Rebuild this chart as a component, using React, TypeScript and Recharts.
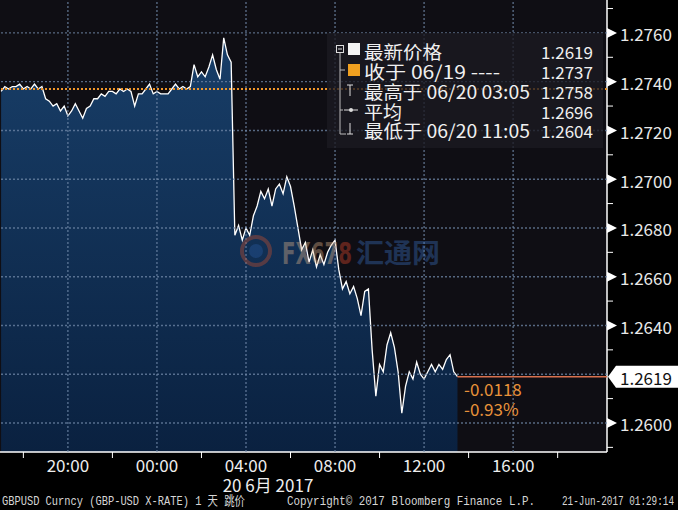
import React from "react";
import { ComposedChart, Area, XAxis, YAxis, CartesianGrid, ReferenceLine } from "recharts";

// minutes relative to 20 Jun 2017 00:00, 10-minute closes from 19 Jun 17:00
const START_MIN = -420;
const STEP_MIN = 10;

const closes = [
  1.2736, 1.2738, 1.2737, 1.2738, 1.2738, 1.2739, 1.2737, 1.2738, 1.2737, 1.2739,
  1.2737, 1.2738, 1.2733, 1.2732, 1.273, 1.2731, 1.2728, 1.273, 1.2726, 1.2728,
  1.2731, 1.2728, 1.2725, 1.2729, 1.273, 1.2733, 1.2733, 1.2735, 1.2734, 1.2736,
  1.2736, 1.2735, 1.2737, 1.2736, 1.2737, 1.2736, 1.273, 1.2735, 1.2735, 1.2737,
  1.2739, 1.2735, 1.2736, 1.2735, 1.2735, 1.2735, 1.2737, 1.2739, 1.2737, 1.2738,
  1.2737, 1.2738, 1.2747, 1.2742, 1.2744, 1.2742, 1.2746, 1.2751, 1.2745, 1.2741,
  1.2758, 1.2751, 1.2748, 1.2677, 1.2681, 1.2675, 1.268, 1.2677, 1.2685, 1.2689,
  1.2695, 1.2692, 1.2696, 1.2689, 1.2696, 1.2698, 1.2694, 1.2701, 1.2697, 1.2689,
  1.268, 1.2671, 1.2674, 1.2666, 1.2671, 1.2664, 1.2669, 1.2665, 1.267, 1.2673,
  1.2675, 1.2663, 1.2655, 1.2658, 1.2653, 1.2656, 1.2651, 1.2644, 1.2654, 1.2655,
  1.263, 1.2611, 1.2624, 1.2621, 1.2632, 1.2637, 1.2631, 1.2621, 1.2604, 1.2615,
  1.2621, 1.2618, 1.2625, 1.262, 1.2618, 1.2621, 1.2624, 1.2621, 1.2624, 1.2622,
  1.2626, 1.2628, 1.2621, 1.2619,
];

const xMajorTicks = [-240, 0, 240, 480, 720, 960];
const xMajorLabels = ["20:00", "00:00", "04:00", "08:00", "12:00", "16:00"];
const xMinorTicks = [-360, -120, 120, 360, 600, 840, 1080];

const yMajorTicks = [1.26, 1.262, 1.264, 1.266, 1.268, 1.27, 1.272, 1.274, 1.276];
const yMinorTicks = [1.259, 1.261, 1.263, 1.265, 1.267, 1.269, 1.271, 1.273, 1.275, 1.277];

const LAST_PRICE = 1.2619;
const PREV_CLOSE = 1.2737;
const LAST_MIN = 810;

const X_DOMAIN = [-423, 1213];
const Y_DOMAIN = [1.25881, 1.27735];

const legendLabels = ["最新价格", "收于 06/19 ----", "最高于 06/20 03:05", "平均", "最低于 06/20 11:05"];
const legendValues = ["1.2619", "1.2737", "1.2758", "1.2696", "1.2604"];
const changeLabels = ["-0.0118", "-0.93%"];

const data = closes.map((c, i) => ({ t: START_MIN + i * STEP_MIN, close: c }));

const FONT = "'Noto Sans CJK SC', 'Noto Sans', sans-serif";
const GRID = "#7088a8";

function PriceTick(props: any) {
  const { x, y, payload } = props;
  const v = payload.value;
  if (v === LAST_PRICE) {
    return (
      <g>
        <polygon
          points={`${x + 1},${y} ${x + 9},${y - 11} ${x + 71},${y - 11} ${x + 71},${y + 11} ${x + 9},${y + 11}`}
          fill="#fff"
        />
        <text x={x + 13} y={y + 1} dominantBaseline="central" fontSize={17} fontFamily={FONT} fill="#111">
          {v.toFixed(4)}
        </text>
      </g>
    );
  }
  // the last price tag hides the label under it
  if (Math.abs(v - LAST_PRICE) < 0.0005) return <g />;
  const major = Math.round(v * 1000) % 2 === 0;
  if (!major) return <line x1={x} x2={x + 6} y1={y} y2={y} stroke="#fff" strokeWidth={1} />;
  return (
    <g>
      <polygon points={`${x},${y - 5} ${x + 10},${y} ${x},${y + 5}`} fill="#fff" />
      <text x={x + 13} y={y + 1} dominantBaseline="central" fontSize={17} fontFamily={FONT} fill="#e8e8e8">
        {v.toFixed(4)}
      </text>
    </g>
  );
}

function TimeTick(props: any) {
  const { x, y, payload } = props;
  const idx = xMajorTicks.indexOf(payload.value);
  if (idx < 0) return <line x1={x} x2={x} y1={y} y2={y + 6} stroke="#fff" strokeWidth={1} />;
  return (
    <text x={x} y={y + 12} textAnchor="middle" dominantBaseline="central" fontSize={17} fontFamily={FONT} fill="#eee">
      {xMajorLabels[idx]}
    </text>
  );
}

function Overlay() {
  const rowY = [50, 70, 90, 110, 129];
  const labelWidths = [78, 136, 166, 38, 166];
  return (
    <svg width={678} height={510} style={{ position: "absolute", left: 0, top: 0, pointerEvents: "none" }}>
      {/* watermark */}
      <g opacity={0.38}>
        <circle cx={256} cy={251} r={14} fill="none" stroke="#c8502e" strokeWidth={4} />
        <circle cx={256} cy={251} r={7} fill="#2a5aa0" />
        <text x={282} y={264} fontSize={30} fontWeight={700} fontFamily="'DejaVu Sans', sans-serif" fill="#e0b48a" textLength={70} lengthAdjust="spacingAndGlyphs">
          FX67<tspan fill="#e0482c">8</tspan>
        </text>
        <text x={356} y={263} fontSize={27} fontWeight={700} fontFamily={FONT} fill="#3a70c0" textLength={84} lengthAdjust="spacingAndGlyphs">
          汇通网
        </text>
      </g>

      {/* legend */}
      <rect x={327} y={33} width={276} height={115} fill="#1b1a21" opacity={0.78} />
      <rect x={336.5} y={45.5} width={7} height={7} fill="none" stroke="#ddd" />
      <line x1={338} x2={342} y1={49} y2={49} stroke="#ddd" />
      <line x1={340} x2={340} y1={53} y2={134} stroke="#bbb" />
      <line x1={340} x2={345} y1={70} y2={70} stroke="#bbb" />
      <line x1={340} x2={343} y1={110} y2={110} stroke="#bbb" />
      <line x1={340} x2={346} y1={134} y2={134} stroke="#bbb" />
      <line x1={347} x2={353} y1={85} y2={85} stroke="#ddd" />
      <line x1={350} x2={350} y1={85} y2={96} stroke="#ddd" />
      <line x1={344} x2={358} y1={110} y2={110} stroke="#ddd" />
      <circle cx={351} cy={110} r={2} fill="#ddd" />
      <line x1={350} x2={350} y1={123} y2={134} stroke="#ddd" />
      <line x1={347} x2={353} y1={134} y2={134} stroke="#ddd" />
      <rect x={348} y={43} width={12} height={12} fill="#f4f4f4" />
      <rect x={348} y={64} width={12} height={12} fill="#f0a020" />
      {legendLabels.map((s, i) => (
        <text
          key={s}
          x={364}
          y={rowY[i] + 1}
          dominantBaseline="central"
          fontSize={18}
          fontFamily={FONT}
          fill="#f0f0f0"
          textLength={labelWidths[i]}
          lengthAdjust="spacingAndGlyphs"
        >
          {s}
        </text>
      ))}
      {legendValues.map((s, i) => (
        <text key={i} x={593} y={rowY[i] + 1} textAnchor="end" dominantBaseline="central" fontSize={17} fontFamily={FONT} fill="#f0f0f0">
          {s}
        </text>
      ))}

      {/* change from previous close */}
      {changeLabels.map((s, i) => (
        <text key={s} x={464} y={388 + i * 20} dominantBaseline="central" fontSize={17} fontFamily={FONT} fill="#e8923a">
          {s}
        </text>
      ))}

      <text x={268} y={484} textAnchor="middle" dominantBaseline="central" fontSize={17} fontFamily={FONT} fill="#eee">
        20 6月 2017
      </text>

      {/* footer */}
      <g fontFamily="'Liberation Mono', 'Noto Sans CJK SC', monospace" fontSize={13} fill="#d6d6d6">
        <text x={2} y={505} textLength={243} lengthAdjust="spacingAndGlyphs">
          GBPUSD Curncy (GBP-USD X-RATE) 1 天  跳价
        </text>
        <text x={287} y={505} textLength={248} lengthAdjust="spacingAndGlyphs">
          Copyright© 2017 Bloomberg Finance L.P.
        </text>
        <text x={562} y={505} textLength={112} lengthAdjust="spacingAndGlyphs">
          21-Jun-2017 01:29:14
        </text>
      </g>
    </svg>
  );
}

export default function App() {
  return (
    <div style={{ position: "fixed", left: 0, top: 0, width: 678, height: 510, background: "#000", fontFamily: FONT }}>
      <ComposedChart width={678} height={510} data={data} margin={{ top: 0, right: 0, bottom: 0, left: 0 }}>
        <defs>
          <linearGradient id="fillBlue" x1="0" y1="0" x2="0" y2="1">
            <stop offset="0%" stopColor="#183e68" />
            <stop offset="100%" stopColor="#0a2140" />
          </linearGradient>
        </defs>
        <CartesianGrid horizontal={false} vertical={false} fill="#0f0e14" />
        <XAxis
          type="number"
          dataKey="t"
          domain={X_DOMAIN}
          allowDataOverflow
          ticks={[...xMinorTicks, ...xMajorTicks]}
          interval={0}
          height={58}
          tickSize={0}
          tickMargin={0}
          tickLine={false}
          axisLine={{ stroke: "#fff", strokeWidth: 1.5 }}
          tick={<TimeTick />}
        />
        <YAxis
          orientation="right"
          type="number"
          domain={Y_DOMAIN}
          allowDataOverflow
          ticks={[...yMinorTicks, ...yMajorTicks, LAST_PRICE]}
          interval={0}
          width={71}
          tickSize={0}
          tickMargin={0}
          tickLine={false}
          axisLine={{ stroke: "#fff", strokeWidth: 1.5 }}
          tick={<PriceTick />}
        />
        <Area
          type="linear"
          dataKey="close"
          stroke="#fff"
          strokeWidth={1.3}
          fill="url(#fillBlue)"
          fillOpacity={1}
          dot={false}
          activeDot={false}
          isAnimationActive={false}
        />
      </ComposedChart>

      {/* second, transparent chart on the same scales so the grid sits over the fill */}
      <div style={{ position: "absolute", left: 0, top: 0 }}>
        <ComposedChart width={678} height={510} data={data} margin={{ top: 0, right: 0, bottom: 0, left: 0 }}>
          <XAxis type="number" dataKey="t" domain={X_DOMAIN} allowDataOverflow height={58} tick={false} tickLine={false} axisLine={false} />
          <YAxis orientation="right" type="number" domain={Y_DOMAIN} allowDataOverflow width={71} tick={false} tickLine={false} axisLine={false} />
          {xMajorTicks.map((t) => (
            <ReferenceLine key={"x" + t} x={t} stroke={GRID} strokeOpacity={0.75} strokeWidth={1.4} strokeDasharray="2 2" />
          ))}
          {yMajorTicks.map((v) => (
            <ReferenceLine key={"y" + v} y={v} stroke={GRID} strokeOpacity={0.75} strokeWidth={1.4} strokeDasharray="2 2" />
          ))}
          <ReferenceLine y={PREV_CLOSE} stroke="#f0962a" strokeWidth={2} strokeDasharray="2 2" />
          <ReferenceLine
            segment={[
              { x: LAST_MIN, y: LAST_PRICE },
              { x: X_DOMAIN[1], y: LAST_PRICE },
            ]}
            stroke="#d9714e"
            strokeWidth={1.5}
          />
        </ComposedChart>
      </div>
      <Overlay />
    </div>
  );
}
